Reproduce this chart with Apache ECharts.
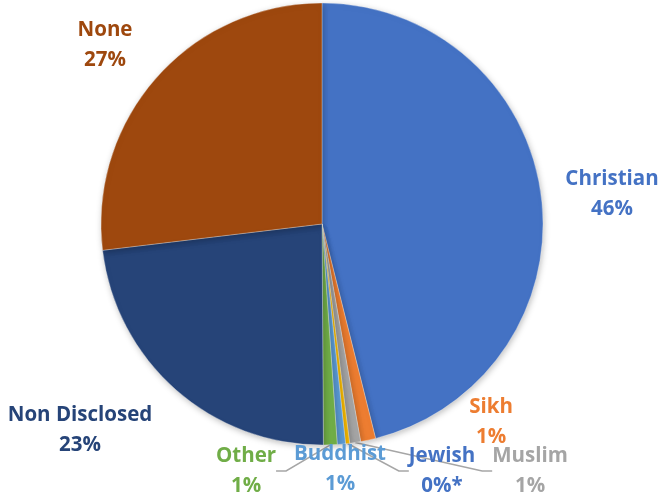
<!DOCTYPE html>
<html>
<head>
<meta charset="utf-8">
<style>
  html, body { margin: 0; padding: 0; background: #ffffff; }
  #chart { width: 662px; height: 498px; }
</style>
<script src="https://cdn.jsdelivr.net/npm/echarts@6/dist/echarts.min.js"></script>
</head>
<body>
<div id="chart"></div>
<script>
// Religion breakdown, clockwise from 12 o'clock
const categories = ['Christian', 'Sikh', 'Muslim', 'Jewish', 'Buddhist', 'Other', 'Non Disclosed', 'None'];
const shares     = [46.1, 1.1, 0.8, 0.3, 0.6, 1.0, 23.2, 26.9];
const footnotes  = ['', '', '', '*', '', '', '', ''];

// Styling
const colors = ['#4472C4', '#ED7D31', '#A5A5A5', '#FFC000', '#5B9BD5', '#70AD47', '#264478', '#9E480E'];
const labelColors = ['#4472C4', '#ED7D31', '#A5A5A5', '#4472C4', '#5B9BD5', '#70AD47', '#264478', '#9E480E'];
const labelCentres = [
  [612, 194], [491, 422], [530, 471], [442, 471],
  [340, 469], [246, 471], [80, 430], [105, 45]
];
const withLeader = [false, false, true, true, true, true, false, false];

const chart = echarts.init(document.getElementById('chart'), null, { renderer: 'canvas' });

chart.setOption({
  animation: false,
  series: [{
    type: 'pie',
    center: [322, 224],
    radius: 221,
    startAngle: 90,
    clockwise: true,
    avoidLabelOverlap: false,
    itemStyle: {
      borderColor: 'rgba(255,255,255,0.6)',
      borderWidth: 0.5,
      shadowBlur: 6,
      shadowOffsetX: 1,
      shadowOffsetY: 2,
      shadowColor: 'rgba(0,0,0,0.25)'
    },
    label: {
      show: true,
      position: 'outside',
      fontFamily: 'Open Sans',
      fontWeight: 'bold',
      fontSize: 20.5,
      lineHeight: 30,
      align: 'center',
      formatter: p => p.name + '\n' + Math.round(p.percent) + '%' + footnotes[p.dataIndex]
    },
    labelLine: {
      show: true,
      length: 10,
      length2: 10,
      lineStyle: { color: '#A6A6A6', width: 1.5 }
    },
    labelLayout: params => {
      const c = labelCentres[params.dataIndex];
      return { x: c[0], y: c[1], align: 'center', verticalAlign: 'middle' };
    },
    data: categories.map((name, i) => ({
      name: name,
      value: shares[i],
      itemStyle: { color: colors[i] },
      label: { color: labelColors[i] },
      labelLine: { show: withLeader[i] }
    }))
  }]
});
</script>
</body>
</html>
